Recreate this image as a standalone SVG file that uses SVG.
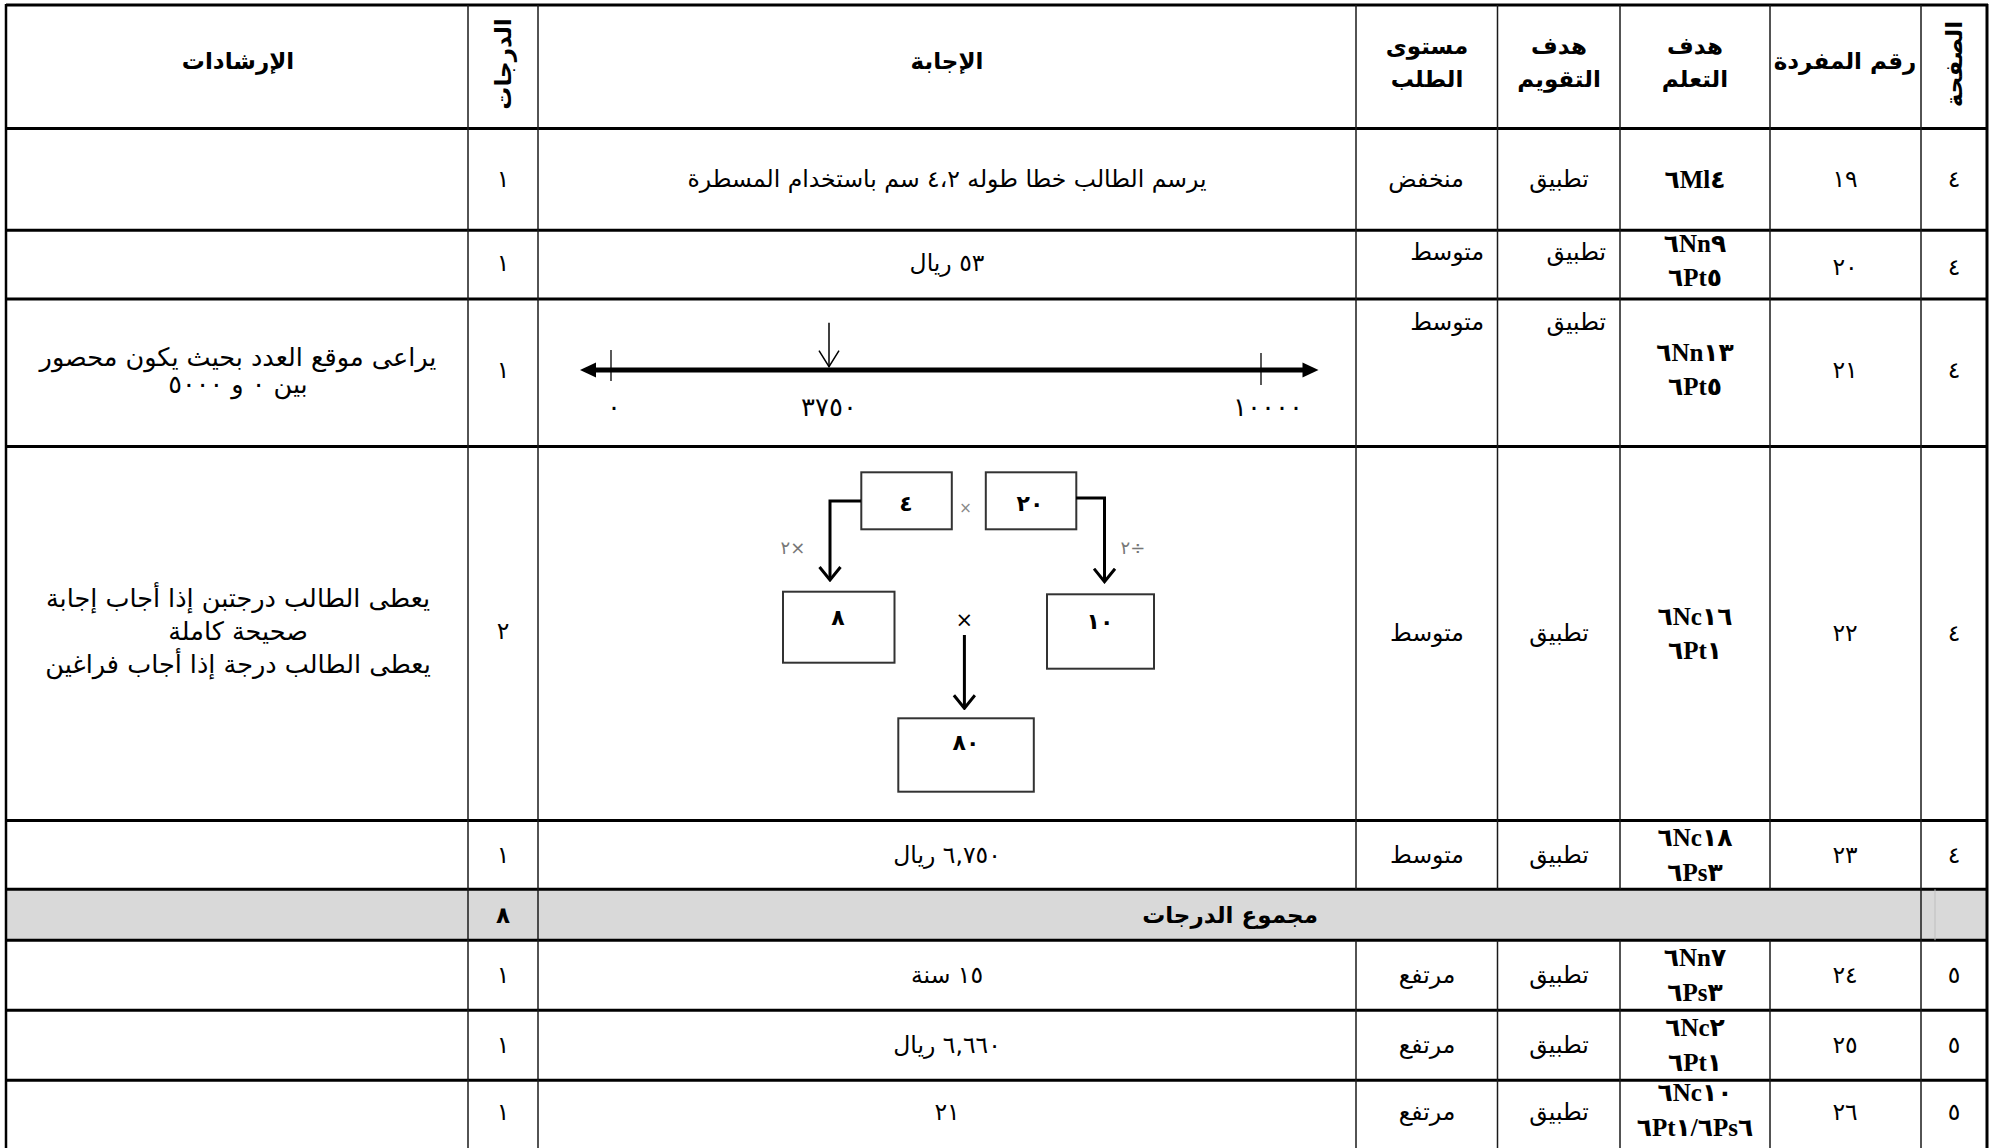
<svg xmlns="http://www.w3.org/2000/svg" width="1995" height="1148" viewBox="0 0 1995 1148">
<style>
.t{font-family:"DejaVu Sans",sans-serif;font-size:23.5px;fill:#000;text-anchor:middle;dominant-baseline:central}
.h{font-weight:bold;font-size:23px}
.g{font-size:25.5px}
.c{font-family:"Liberation Serif","DejaVu Sans",serif;font-weight:bold;font-size:25px}
.n{font-size:26px}
.r{text-anchor:end}
.hl{stroke:#000;stroke-width:3}
.vl{stroke:#1a1a1a;stroke-width:1.5}
.box{fill:#fff;stroke:#333;stroke-width:2}
.bx{font-weight:bold;font-size:22px}
.conn{fill:none;stroke:#000;stroke-width:3}
</style>
<defs>
<marker id="vhead" viewBox="0 0 16 24" refX="14" refY="12" markerWidth="16" markerHeight="24" markerUnits="userSpaceOnUse" orient="auto">
<path d="M1,1.5 L14,12 L1,22.5" fill="none" stroke="#000" stroke-width="3"/>
</marker>
<marker id="thinv" viewBox="0 0 18 22" refX="17" refY="11" markerWidth="18" markerHeight="22" markerUnits="userSpaceOnUse" orient="auto">
<path d="M1,1 L17,11 L1,21" fill="none" stroke="#000" stroke-width="1.5"/>
</marker>
</defs>
<rect width="1995" height="1148" fill="#fff"/>
<rect x="6" y="889.3" width="1981" height="50.9" fill="#d9d9d9"/>

<g id="grid">
<line class="hl" x1="6" y1="5" x2="1988" y2="5"/>
<line class="hl" x1="6" y1="128.5" x2="1988" y2="128.5"/>
<line class="hl" x1="6" y1="230.3" x2="1988" y2="230.3"/>
<line class="hl" x1="6" y1="299" x2="1988" y2="299"/>
<line class="hl" x1="6" y1="446.6" x2="1988" y2="446.6"/>
<line class="hl" x1="6" y1="820.6" x2="1988" y2="820.6"/>
<line class="hl" x1="6" y1="889.3" x2="1988" y2="889.3"/>
<line class="hl" x1="6" y1="940.2" x2="1988" y2="940.2"/>
<line class="hl" x1="6" y1="1010.2" x2="1988" y2="1010.2"/>
<line class="hl" x1="6" y1="1080.2" x2="1988" y2="1080.2"/>
<line x1="6" y1="4" x2="6" y2="1148" stroke="#000" stroke-width="2.5"/>
<line x1="1987" y1="4" x2="1987" y2="1148" stroke="#000" stroke-width="3"/>
<line class="vl" x1="468" y1="5" x2="468" y2="1148"/>
<line class="vl" x1="538" y1="5" x2="538" y2="1148"/>
<line class="vl" x1="1921" y1="5" x2="1921" y2="1148"/>
<line class="vl" x1="1356" y1="5" x2="1356" y2="889.3"/>
<line class="vl" x1="1497.5" y1="5" x2="1497.5" y2="889.3"/>
<line class="vl" x1="1620" y1="5" x2="1620" y2="889.3"/>
<line class="vl" x1="1770" y1="5" x2="1770" y2="889.3"/>
<line class="vl" x1="1356" y1="940.2" x2="1356" y2="1148"/>
<line class="vl" x1="1497.5" y1="940.2" x2="1497.5" y2="1148"/>
<line class="vl" x1="1620" y1="940.2" x2="1620" y2="1148"/>
<line class="vl" x1="1770" y1="940.2" x2="1770" y2="1148"/>
<line x1="1935" y1="889.3" x2="1935" y2="940.2" stroke="#bfbfbf" stroke-width="1"/>
</g>

<g id="header">
<text class="t h" x="238" y="61">الإرشادات</text>
<text class="t h" transform="translate(503,64) rotate(-90)">الدرجات</text>
<text class="t h" x="947" y="61">الإجابة</text>
<text class="t h" x="1427" y="46">مستوى</text>
<text class="t h" x="1427" y="79">الطلب</text>
<text class="t h" x="1559" y="46">هدف</text>
<text class="t h" x="1559" y="79">التقويم</text>
<text class="t h" x="1695" y="46">هدف</text>
<text class="t h" x="1695" y="79">التعلم</text>
<text class="t h" x="1845" y="61">رقم المفردة</text>
<text class="t h" transform="translate(1954,64) rotate(-90)">الصفحة</text>
</g>

<g id="row19">
<text class="t" x="503" y="179">١</text>
<text class="t" x="947" y="179">يرسم الطالب خطا طوله ٤،٢ سم باستخدام المسطرة</text>
<text class="t" x="1426" y="179">منخفض</text>
<text class="t" x="1559" y="179">تطبيق</text>
<text class="t c" x="1695" y="179">٦Ml٤</text>
<text class="t" x="1845" y="179">١٩</text>
<text class="t" x="1954" y="179">٤</text>
</g>

<g id="row20">
<text class="t" x="503" y="263">١</text>
<text class="t" x="947" y="263">٥٣ ريال</text>
<text class="t r" x="1484" y="252">متوسط</text>
<text class="t r" x="1606" y="252">تطبيق</text>
<text class="t c" x="1695" y="243">٦Nn٩</text>
<text class="t c" x="1695" y="277">٦Pt٥</text>
<text class="t" x="1845" y="267">٢٠</text>
<text class="t" x="1954" y="267">٤</text>
</g>

<g id="row21">
<text class="t g" x="238" y="357">يراعى موقع العدد بحيث يكون محصور</text>
<text class="t g" x="238" y="384">بين ٠ و ٥٠٠٠</text>
<text class="t" x="503" y="370">١</text>
<g id="numberline">
<line x1="594" y1="370" x2="1304" y2="370" stroke="#000" stroke-width="5"/>
<polygon points="580,370 596,362.5 596,377.5" fill="#000"/>
<polygon points="1318.5,370 1302.5,362.5 1302.5,377.5" fill="#000"/>
<line x1="611" y1="350" x2="611" y2="381" stroke="#000" stroke-width="1.3"/>
<line x1="1261" y1="353" x2="1261" y2="385" stroke="#000" stroke-width="1.3"/>
<line x1="829" y1="322.7" x2="829" y2="366.7" stroke="#000" stroke-width="1.5" marker-end="url(#thinv)"/>
<text class="t n" x="614" y="407">٠</text>
<text class="t n" x="829" y="407">٣٧٥٠</text>
<text class="t n" x="1268" y="407">١٠٠٠٠</text>
</g>
<text class="t r" x="1484" y="322">متوسط</text>
<text class="t r" x="1606" y="322">تطبيق</text>
<text class="t c" x="1695" y="352">٦Nn١٣</text>
<text class="t c" x="1695" y="386">٦Pt٥</text>
<text class="t" x="1845" y="370">٢١</text>
<text class="t" x="1954" y="370">٤</text>
</g>

<g id="row22">
<text class="t g" x="238" y="598">يعطى الطالب درجتبن إذا أجاب إجابة</text>
<text class="t g" x="238" y="631">صحيحة كاملة</text>
<text class="t g" x="238" y="664">يعطى الطالب درجة إذا أجاب فراغين</text>
<text class="t" x="503" y="631">٢</text>
<text class="t" x="1427" y="633">متوسط</text>
<text class="t" x="1559" y="633">تطبيق</text>
<text class="t c" x="1695" y="616">٦Nc١٦</text>
<text class="t c" x="1695" y="650">٦Pt١</text>
<text class="t" x="1845" y="633">٢٢</text>
<text class="t" x="1954" y="633">٤</text>
</g>

<g id="node-4">
<rect class="box" x="861.3" y="472.3" width="90.5" height="57"/>
<text class="t bx" x="906" y="503">٤</text>
</g>
<g id="node-20">
<rect class="box" x="985.8" y="472.3" width="90.5" height="57"/>
<text class="t bx" x="1030" y="503">٢٠</text>
</g>
<g id="node-8">
<rect class="box" x="783" y="591.7" width="111.5" height="71"/>
<text class="t bx" x="838" y="617">٨</text>
</g>
<g id="node-10">
<rect class="box" x="1047" y="594.3" width="107" height="74.4"/>
<text class="t bx" x="1100" y="621">١٠</text>
</g>
<g id="node-80">
<rect class="box" x="898.3" y="718.3" width="135.5" height="73.4"/>
<text class="t bx" x="966" y="742">٨٠</text>
</g>
<g id="op-labels">
<text class="t" x="965.6" y="508" style="font-size:15px;fill:#888">×</text>
<text class="t" x="793" y="547" style="font-size:18px;fill:#777">٢×</text>
<text class="t" x="1133" y="547" style="font-size:18px;fill:#777">٢÷</text>
<text class="t" x="964.4" y="620" style="font-size:21px">×</text>
</g>
<g id="connectors">
<path class="conn" d="M861,501 H830 V580" marker-end="url(#vhead)"/>
<path class="conn" d="M1076,498 H1104.5 V581.7" marker-end="url(#vhead)"/>
<path class="conn" d="M964.4,635 V708.3" marker-end="url(#vhead)"/>
</g>

<g id="row23">
<text class="t" x="503" y="855">١</text>
<text class="t" x="947" y="855">٦,٧٥٠ ريال</text>
<text class="t" x="1427" y="855">متوسط</text>
<text class="t" x="1559" y="855">تطبيق</text>
<text class="t c" x="1695" y="837">٦Nc١٨</text>
<text class="t c" x="1695" y="872">٦Ps٣</text>
<text class="t" x="1845" y="855">٢٣</text>
<text class="t" x="1954" y="855">٤</text>
</g>

<g id="total">
<text class="t h" x="503" y="915">٨</text>
<text class="t h" x="1230" y="915">مجموع الدرجات</text>
</g>

<g id="row24">
<text class="t" x="503" y="975">١</text>
<text class="t" x="947" y="975">١٥ سنة</text>
<text class="t" x="1427" y="975">مرتفع</text>
<text class="t" x="1559" y="975">تطبيق</text>
<text class="t c" x="1695" y="957">٦Nn٧</text>
<text class="t c" x="1695" y="992">٦Ps٣</text>
<text class="t" x="1845" y="975">٢٤</text>
<text class="t" x="1954" y="975">٥</text>
</g>

<g id="row25">
<text class="t" x="503" y="1045">١</text>
<text class="t" x="947" y="1045">٦,٦٦٠ ريال</text>
<text class="t" x="1427" y="1045">مرتفع</text>
<text class="t" x="1559" y="1045">تطبيق</text>
<text class="t c" x="1695" y="1027">٦Nc٢</text>
<text class="t c" x="1695" y="1062">٦Pt١</text>
<text class="t" x="1845" y="1045">٢٥</text>
<text class="t" x="1954" y="1045">٥</text>
</g>

<g id="row26">
<text class="t" x="503" y="1112">١</text>
<text class="t" x="947" y="1112">٢١</text>
<text class="t" x="1427" y="1112">مرتفع</text>
<text class="t" x="1559" y="1112">تطبيق</text>
<text class="t c" x="1695" y="1092">٦Nc١٠</text>
<text class="t c" x="1695" y="1127">٦Pt١/٦Ps٦</text>
<text class="t" x="1845" y="1112">٢٦</text>
<text class="t" x="1954" y="1112">٥</text>
</g>
</svg>
